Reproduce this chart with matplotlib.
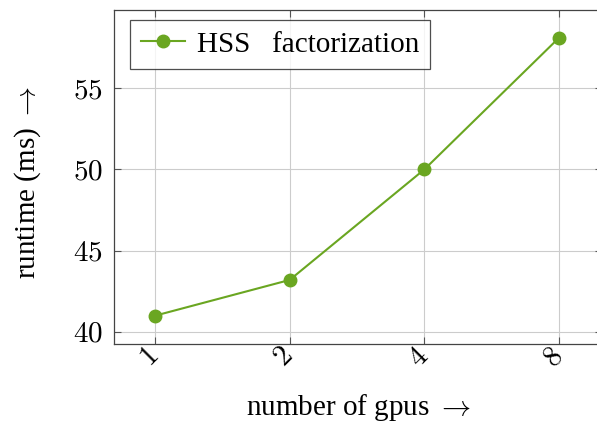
import matplotlib
matplotlib.use("Agg")
import matplotlib.pyplot as plt

# runtime of the HSS factorization vs number of gpus
gpus = ["1", "2", "4", "8"]
runtime_ms = [41.0, 43.2, 50.0, 58.1]
y_ticks = [40, 45, 50, 55]

plt.rcParams["font.family"] = ["Liberation Serif", "DejaVu Serif"]
plt.rcParams["mathtext.fontset"] = "cm"

green = "#6aa621"

fig = plt.figure(figsize=(5.97, 4.22), dpi=100)
ax = fig.add_axes([114 / 597, 78 / 422, 488 / 597, 334 / 422])

x = list(range(len(gpus)))
ax.plot(x, runtime_ms, color=green, lw=1.5, marker="o", markersize=9,
        label="HSS   factorization")

ax.set_xlim(-0.304, 3.318)
ax.set_ylim(39.26, 59.8)
ax.set_xticks(x)
ax.set_xticklabels([f"${g}$" for g in gpus], rotation=45, ha="right",
                   va="center", rotation_mode="anchor", fontsize=21)
ax.set_yticks(y_ticks)
ax.set_yticklabels([f"${v}$" for v in y_ticks], fontsize=21)

ax.tick_params(direction="in", top=True, right=True, length=5, width=0.8,
               color="#555555", pad=8)
ax.tick_params(axis="x", pad=6)
ax.grid(True, color="#cccccc", lw=0.8)
ax.set_axisbelow(True)
for s in ax.spines.values():
    s.set_color("#444444")
    s.set_linewidth(0.9)

ax.set_xlabel(r"number of gpus $\rightarrow$", fontsize=21)
ax.xaxis.set_label_coords(0.5, -0.145)
ax.set_ylabel(r"runtime (ms) $\rightarrow$", fontsize=21)
ax.yaxis.set_label_coords(-0.145, 0.485)

leg = ax.legend(loc="upper left", bbox_to_anchor=(0.033, 0.97),
                fontsize=21, frameon=True, fancybox=False,
                edgecolor="#222222", handlelength=1.5, borderpad=0.38,
                handletextpad=0.4, borderaxespad=0)
leg.get_frame().set_linewidth(0.9)

fig.savefig("out.png", dpi=100)
